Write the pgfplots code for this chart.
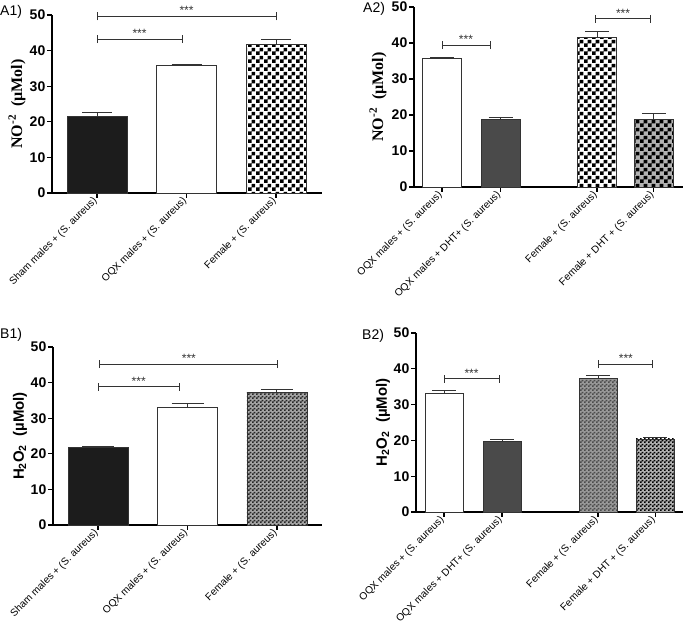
\documentclass[border=0pt]{standalone}
\usepackage{pgfplots}
\pgfplotsset{compat=1.18}
\usepackage{fontspec}
\setmainfont{Liberation Sans}
\newfontfamily\serif{Liberation Serif}
\usetikzlibrary{patterns}
\pgfdeclarepatternformonly{bigcheck}{\pgfqpoint{0pt}{0pt}}{\pgfqpoint{8pt}{8pt}}{\pgfqpoint{8pt}{8pt}}{%
  \pgfpathrectangle{\pgfqpoint{0pt}{0pt}}{\pgfqpoint{4pt}{4pt}}%
  \pgfpathrectangle{\pgfqpoint{4pt}{4pt}}{\pgfqpoint{4pt}{4pt}}%
  \pgfusepath{fill}}
\pgfdeclarepatternformonly{finecheck}{\pgfqpoint{0pt}{0pt}}{\pgfqpoint{4pt}{4pt}}{\pgfqpoint{4pt}{4pt}}{%
  \pgfpathrectangle{\pgfqpoint{0pt}{0pt}}{\pgfqpoint{2pt}{2pt}}%
  \pgfpathrectangle{\pgfqpoint{2pt}{2pt}}{\pgfqpoint{2pt}{2pt}}%
  \pgfusepath{fill}}
\definecolor{barblack}{HTML}{1C1C1C}
\definecolor{bardark}{HTML}{4A4A4A}
\definecolor{edgec}{HTML}{333333}
\tikzset{sig/.style={line width=0.9pt, draw=edgec}}
\pgfplotsset{
  panel/.style={
    scale only axis, anchor=south west, clip=false,
    axis x line*=bottom, axis y line*=left,
    ymin=0, ymax=50, ytick={0,10,...,50},
    axis line style={line width=1.3pt, -},
    every tick/.style={line width=1.3pt, black},
    major tick length=5pt, tick align=outside,
    /pgf/number format/assume math mode=true,
    yticklabel style={font=\bfseries\fontsize{14}{14}\selectfont, inner sep=1.5pt},
    xticklabel style={font=\fontsize{10.2}{12}\selectfont, rotate=45, anchor=east, inner sep=2pt},
    ylabel style={anchor=center},
  },
  abar/.style={ybar, bar shift=0pt, draw=edgec, line width=0.9pt,
    error bars/y dir=plus, error bars/y explicit,
    error bars/error bar style={line width=1pt, edgec},
    error bars/error mark options={rotate=90, line width=1pt, edgec, mark size=#1}},
  abar/.default=15pt,
}
\newcommand{\sigbar}[3]{%
  \draw[sig] (axis cs:#1,#3) -- (axis cs:#2,#3);
  \draw[sig] (axis cs:#1,#3) ++(0pt,-4pt) -- ++(0pt,8pt);
  \draw[sig] (axis cs:#2,#3) ++(0pt,-4pt) -- ++(0pt,8pt);
  \node[anchor=south, inner sep=1.5pt, font=\fontsize{12}{12}\selectfont, text=edgec] at (axis cs:{(#1+#2)/2},#3) {***};}
\begin{document}
\begin{tikzpicture}
\useasboundingbox (0,0) rectangle (685pt,623pt);
% ---------- A1
\begin{axis}[panel, at={(52pt,430pt)}, width=270pt, height=178pt,
  xmin=-0.503, xmax=2.514, xtick={0,1,2},
  xticklabels={Sham males + (S. aureus), OQX males + (S. aureus), Female + (S. aureus)},
  ylabel={\serif\bfseries NO\textsuperscript{-2}\ \ (µMol)},
  ylabel style={at={(axis description cs:-0.13,0.5)}, font=\fontsize{16}{16}\selectfont}]
\addplot[abar=15pt, bar width=60pt, fill=barblack] coordinates {(0,21.6) +- (0,0.9)};
\addplot[abar=15pt, bar width=60pt, fill=white] coordinates {(1,35.8) +- (0,0.3)};
\addplot[abar=15pt, bar width=60pt, fill=white, postaction={pattern=bigcheck, pattern color=black}] coordinates {(2,41.6) +- (0,1.6)};
\sigbar{0}{2}{49.6}
\sigbar{0}{0.95}{43.2}
\end{axis}
% ---------- A2
\begin{axis}[panel, at={(414pt,436pt)}, width=269pt, height=180pt,
  xmin=-0.479, xmax=4.12, xtick={0,1,2.65,3.62},
  xticklabels={OQX males + (S. aureus), OQX males + DHT+ (S. aureus), Female + (S. aureus), Female + DHT + (S. aureus)},
  ylabel={\serif\bfseries NO\textsuperscript{-2}\ \ (µMol)},
  ylabel style={at={(axis description cs:-0.134,0.5)}, font=\fontsize{16}{16}\selectfont}]
\addplot[abar=12pt, bar width=39pt, fill=white] coordinates {(0,35.8) +- (0,0.3)};
\addplot[abar=12pt, bar width=39pt, fill=bardark] coordinates {(1,18.8) +- (0,0.5)};
\addplot[abar=12pt, bar width=39pt, fill=white, postaction={pattern=bigcheck, pattern color=black}] coordinates {(2.65,41.5) +- (0,1.6)};
\addplot[abar=12pt, bar width=39pt, fill=gray!60, postaction={pattern=bigcheck, pattern color=black}] coordinates {(3.62,18.8) +- (0,1.5)};
\sigbar{0}{0.82}{39.4}
\sigbar{2.62}{3.57}{46.7}
\end{axis}
% ---------- B1
\begin{axis}[panel, at={(53pt,98pt)}, width=269pt, height=178pt,
  xmin=-0.503, xmax=2.503, xtick={0,1,2},
  xticklabels={Sham males + (S. aureus), OQX males + (S. aureus), Female + (S. aureus)},
  ylabel={\bfseries H\textsubscript{2}O\textsubscript{2}\ \ (µMol)},
  ylabel style={at={(axis description cs:-0.123,0.5)}, font=\fontsize{15}{15}\selectfont}]
\addplot[abar=16pt, bar width=60pt, fill=barblack] coordinates {(0,21.9) +- (0,0.1)};
\addplot[abar=16pt, bar width=60pt, fill=white] coordinates {(1,33.1) +- (0,0.9)};
\addplot[abar=16pt, bar width=60pt, fill=gray!70, postaction={pattern=finecheck, pattern color=black!85}] coordinates {(2,37.3) +- (0,0.9)};
\sigbar{0.02}{2.01}{45.2}
\sigbar{0}{0.91}{38.8}
\end{axis}
% ---------- B2
\begin{axis}[panel, at={(416pt,111pt)}, width=267pt, height=179pt,
  xmin=-0.483, xmax=4.12, xtick={0,1,2.655,3.64},
  xticklabels={OQX males + (S. aureus), OQX males + DHT+ (S. aureus), Female + (S. aureus), Female + DHT + (S. aureus)},
  ylabel={\bfseries H\textsubscript{2}O\textsubscript{2}\ \ (µMol)},
  ylabel style={at={(axis description cs:-0.124,0.5)}, font=\fontsize{15}{15}\selectfont}]
\addplot[abar=12pt, bar width=38pt, fill=white] coordinates {(0,33.0) +- (0,0.9)};
\addplot[abar=12pt, bar width=38pt, fill=bardark] coordinates {(1,19.8) +- (0,0.4)};
\addplot[abar=12pt, bar width=38pt, fill=gray!80, postaction={pattern=finecheck, pattern color=black!70}] coordinates {(2.655,37.2) +- (0,0.8)};
\addplot[abar=12pt, bar width=38pt, fill=gray!60, postaction={pattern=finecheck, pattern color=black}] coordinates {(3.64,20.4) +- (0,0.3)};
\sigbar{0}{0.95}{37.2}
\sigbar{2.67}{3.6}{41.3}
\end{axis}
% panel labels
\node[anchor=west, inner sep=0pt, font=\fontsize{14}{14}\selectfont] at (0pt,611pt) {A1)};
\node[anchor=west, inner sep=0pt, font=\fontsize{14}{14}\selectfont] at (363pt,614pt) {A2)};
\node[anchor=west, inner sep=0pt, font=\fontsize{14}{14}\selectfont] at (0pt,288pt) {B1)};
\node[anchor=west, inner sep=0pt, font=\fontsize{14}{14}\selectfont] at (362pt,287pt) {B2)};
\end{tikzpicture}
\end{document}
